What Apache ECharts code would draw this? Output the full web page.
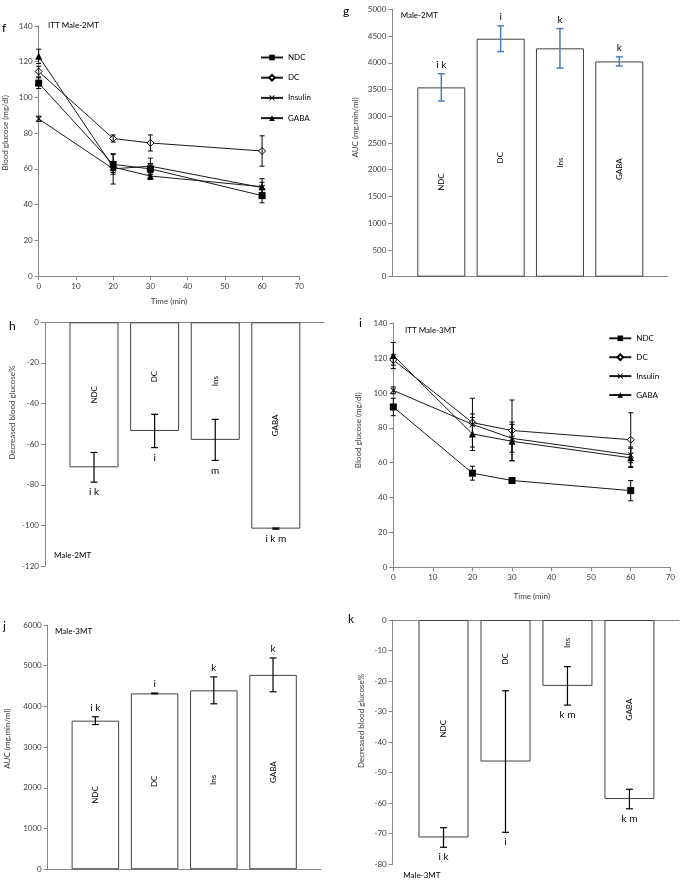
<!DOCTYPE html>
<html><head><meta charset="utf-8">
<script src="https://cdn.jsdelivr.net/npm/echarts@6/dist/echarts.min.js"></script>
<style>html,body{margin:0;padding:0;background:#fff}#c{width:685px;height:882px}</style>
</head><body><div id="c"></div>
<script>
// ---------- DATA ----------
const times = [0, 20, 30, 60];
const lineGroups = ['NDC', 'DC', 'Insulin', 'GABA'];
// Panel f: ITT Male-2MT
const f_NDC = [108, 62.5, 60, 45];       const f_NDC_sd = [3, 5.5, 3, 4];
const f_DC = [114.5, 77, 74.5, 70];      const f_DC_sd = [3, 2, 4.5, 8.5];
const f_Ins = [88, 60, 61.5, 49.5];      const f_Ins_sd = [1.5, 8.5, 4.5, 3];
const f_GABA = [123, 61, 56, 50];        const f_GABA_sd = [4, 3, 2, 4.5];
// Panel i: ITT Male-3MT
const i_NDC = [92, 54, 49.8, 44];        const i_NDC_sd = [5, 4, 1.5, 5.8];
const i_DC = [119, 83, 78.5, 73.2];      const i_DC_sd = [3, 14, 17.5, 15.5];
const i_Ins = [101.5, 82, 74, 64.5];     const i_Ins_sd = [2, 6, 8, 4.5];
const i_GABA = [121.5, 76.5, 72.3, 62.8];const i_GABA_sd = [7.5, 9.5, 11, 5.5];

const barCats = ['NDC', 'DC', 'Ins', 'GABA'];
// Panel g: AUC Male-2MT
const g_auc = [3540, 4450, 4270, 4025];  const g_sd = [255, 240, 370, 85];
const g_letters = ['i k', 'i', 'k', 'k'];
// Panel h: Decreased blood glucose% Male-2MT
const h_dec = [-71.4, -53.5, -57.9, -101.6]; const h_sd = [7.3, 8.2, 10.1, 0.3];
const h_letters = ['i k', 'i', 'm', 'i k m'];
// Panel j: AUC Male-3MT
const j_auc = [3650, 4320, 4395, 4775];  const j_sd = [95, 10, 330, 415];
const j_letters = ['i k', 'i', 'k', 'k'];
// Panel k: Decreased blood glucose% Male-3MT
const k_dec = [-71.3, -46.4, -21.6, -58.7]; const k_sd = [3.2, 23.2, 6.3, 3.2];
const k_letters = ['i k', 'i', 'k m', 'k m'];

// ---------- STYLE ----------
const FONT = 'Lato, "Liberation Sans", sans-serif';
const AXIS_C = '#868686', LABEL_C = '#404040';

const chart = echarts.init(document.getElementById('c'), null, {renderer: 'canvas'});

const grids = [
  {left: 38.7, top: 26, width: 260.6, height: 250},     // f
  {left: 392.3, top: 9.3, width: 275.4, height: 267.4}, // g
  {left: 45, top: 322.3, width: 279, height: 243.7},    // h
  {left: 393.3, top: 323.3, width: 277, height: 244},   // i
  {left: 47.7, top: 625, width: 273.3, height: 244.3},  // j
  {left: 392.7, top: 620, width: 286.3, height: 244}    // k
];

function axisBase() {
  return {
    axisLine: {show: true, lineStyle: {color: AXIS_C, width: 1}},
    axisTick: {show: true, length: 4, lineStyle: {color: AXIS_C}},
    axisLabel: {color: LABEL_C, fontSize: 8, fontFamily: FONT, margin: 6, formatter: v => String(v)},
    splitLine: {show: false}
  };
}
function timeAxis(gi, gap) {
  return Object.assign(axisBase(), {
    type: 'value', gridIndex: gi, min: 0, max: 70, interval: 10,
    name: 'Time (min)', nameLocation: 'middle', nameGap: gap,
    nameTextStyle: {color: LABEL_C, fontSize: 8, fontFamily: FONT}
  });
}
function catValAxis(gi, mn, mx) {
  return {
    type: 'value', gridIndex: gi, min: mn, max: mx,
    axisLine: {show: true, onZero: true, lineStyle: {color: AXIS_C, width: 1}},
    axisTick: {show: false}, axisLabel: {show: false}, splitLine: {show: false}
  };
}
function yAxis(gi, mn, mx, iv, name, gap, shift) {
  return Object.assign(axisBase(), {
    type: 'value', gridIndex: gi, min: mn, max: mx, interval: iv,
    name: name, nameLocation: 'middle', nameGap: gap,
    nameTextStyle: {color: LABEL_C, fontSize: 8, fontFamily: FONT, padding: [0, 0, 0, shift]}
  });
}

const xAxes = [
  timeAxis(0, 21),
  catValAxis(1, 0.174, 4.816),
  catValAxis(2, 0.191, 4.795),
  timeAxis(3, 25),
  catValAxis(4, 0.195, 4.81),
  catValAxis(5, 0.18, 4.80)
];
const yAxes = [
  yAxis(0, 0, 140, 20, 'Blood glucose (mg/dl)', 29, 36),
  yAxis(1, 0, 5000, 500, 'AUC (mg.min/ml)', 33, 31),
  yAxis(2, -120, 0, 20, 'Decreased blood glucose%', 29, 63),
  yAxis(3, 0, 140, 20, 'Blood glucose (mg/dl)', 31, 30),
  yAxis(4, 0, 6000, 1000, 'AUC (mg.min/ml)', 36, 17),
  yAxis(5, -80, 0, 10, 'Decreased blood glucose%', 27, 42)
];

// markers
const XPATH = 'path://M0,1L1,0L5,4L9,0L10,1L6,5L10,9L9,10L5,6L1,10L0,9L4,5Z';
const markerStyles = {
  'NDC': {symbol: 'rect', symbolSize: 7, itemStyle: {color: '#000'}},
  'DC': {symbol: 'diamond', symbolSize: 7, itemStyle: {color: '#fff', borderColor: '#000', borderWidth: 1}},
  'Insulin': {symbol: XPATH, symbolSize: 6, itemStyle: {color: '#000'}},
  'GABA': {symbol: 'triangle', symbolSize: 7, itemStyle: {color: '#000'}}
};

function errRenderer(color, capHalf, lw) {
  return function (params, api) {
    const x = api.value(0), lo = api.value(1), hi = api.value(2);
    const a = api.coord([x, hi]), b = api.coord([x, lo]);
    const st = {stroke: color, lineWidth: lw};
    return {type: 'group', children: [
      {type: 'line', shape: {x1: a[0], y1: a[1], x2: b[0], y2: b[1]}, style: st},
      {type: 'line', shape: {x1: a[0] - capHalf, y1: a[1], x2: a[0] + capHalf, y2: a[1]}, style: st},
      {type: 'line', shape: {x1: b[0] - capHalf, y1: b[1], x2: b[0] + capHalf, y2: b[1]}, style: st}
    ]};
  };
}

const series = [];
function addLines(gi, vals, sds) {
  lineGroups.forEach((g, k) => {
    const m = markerStyles[g];
    series.push({
      type: 'line', name: g, xAxisIndex: gi, yAxisIndex: gi,
      data: times.map((t, n) => [t, vals[k][n]]),
      symbol: m.symbol, symbolSize: m.symbolSize, itemStyle: m.itemStyle,
      lineStyle: {color: '#1a1a1a', width: 1}, z: 3, silent: true
    });
    series.push({
      type: 'custom', xAxisIndex: gi, yAxisIndex: gi, z: 4, silent: true,
      data: times.map((t, n) => [t, vals[k][n] - sds[k][n], vals[k][n] + sds[k][n]]),
      encode: {x: 0, y: [1, 2]},
      renderItem: errRenderer('#000', 2.5, 1)
    });
  });
}
addLines(0, [f_NDC, f_DC, f_Ins, f_GABA], [f_NDC_sd, f_DC_sd, f_Ins_sd, f_GABA_sd]);
addLines(3, [i_NDC, i_DC, i_Ins, i_GABA], [i_NDC_sd, i_DC_sd, i_Ins_sd, i_GABA_sd]);

// labelShift: optional per-bar pixel shifts (upward) of the rotated bar labels (layout only)
function addBars(gi, vals, sds, letters, barW, errColor, errW, below, labelShift) {
  series.push({
    type: 'bar', xAxisIndex: gi, yAxisIndex: gi, barWidth: barW, silent: true,
    data: vals.map((v, n) => {
      const item = {value: [n + 1, v]};
      if (labelShift && labelShift[n]) item.label = {offset: [labelShift[n], 0]};
      return item;
    }),
    itemStyle: {color: '#fff', borderColor: '#404040', borderWidth: 1},
    label: {
      show: true, position: 'inside', rotate: 90, color: '#000',
      fontSize: 8, fontFamily: FONT,
      formatter: p => barCats[p.dataIndex]
    }
  });
  series.push({
    type: 'custom', xAxisIndex: gi, yAxisIndex: gi, z: 4, silent: true,
    data: vals.map((v, n) => [n + 1, v - sds[n], v + sds[n]]),
    encode: {x: 0, y: [1, 2]},
    renderItem: errRenderer(errColor, 3.5, errW)
  });
  series.push({
    type: 'custom', xAxisIndex: gi, yAxisIndex: gi, z: 5, silent: true,
    data: vals.map((v, n) => [n + 1, v - sds[n], v + sds[n]]),
    encode: {x: 0, y: [1, 2]},
    renderItem: function (params, api) {
      const x = api.value(0);
      const p = below ? api.coord([x, api.value(1)]) : api.coord([x, api.value(2)]);
      return {type: 'text', x: p[0], y: p[1] + (below ? 10 : -9),
        style: {text: letters[params.dataIndex], fontSize: 10, fontFamily: FONT,
          fill: '#000', align: 'center', verticalAlign: 'middle'}};
    }
  });
}
addBars(1, g_auc, g_sd, g_letters, 48, '#4a7ebb', 1.5, false);
addBars(2, h_dec, h_sd, h_letters, 49, '#000', 1.2, true);
addBars(4, j_auc, j_sd, j_letters, 47.5, '#000', 1.2, false);
addBars(5, k_dec, k_sd, k_letters, 50, '#000', 1.2, true, [0, 32, 10, 0]);

function txt(s, x, y, size) {
  return {type: 'text', x: x, y: y, silent: true,
    style: {text: s, fontSize: size, fontFamily: FONT, fill: '#000', align: 'left', verticalAlign: 'middle'}};
}
function sub(s, left, cy) {
  return {text: s, left: left, top: cy - 5, padding: 0,
    textStyle: {fontSize: 8, fontWeight: 'normal', fontFamily: FONT, color: '#000'}};
}

const legendBase = {
  orient: 'vertical', itemWidth: 22, itemHeight: 7, itemGap: 10,
  textStyle: {fontSize: 8, fontFamily: FONT, color: '#000', lineHeight: 10},
  data: lineGroups, selectedMode: false
};

chart.setOption({
  animation: false,
  backgroundColor: '#fff',
  textStyle: {fontFamily: FONT},
  title: [
    sub('ITT Male-2MT', 48, 26),
    sub('Male-2MT', 400.7, 16.7),
    sub('Male-2MT', 54, 556.7),
    sub('ITT Male-3MT', 405, 331.7),
    sub('Male-3MT', 55, 632.3),
    sub('Male-3MT', 403.3, 876)
  ],
  legend: [
    Object.assign({}, legendBase, {left: 255, top: 47.5, itemGap: 10.2}),
    Object.assign({}, legendBase, {left: 603.3, top: 328.3, itemGap: 8.9})
  ],
  grid: grids,
  xAxis: xAxes,
  yAxis: yAxes,
  series: series,
  graphic: [
    txt('f', 2, 28, 12),
    txt('g', 343, 11, 12),
    txt('h', 9, 326, 12),
    txt('i', 359, 323, 12),
    txt('j', 3, 626, 12),
    txt('k', 348, 619, 12)
  ]
});
</script></body></html>
